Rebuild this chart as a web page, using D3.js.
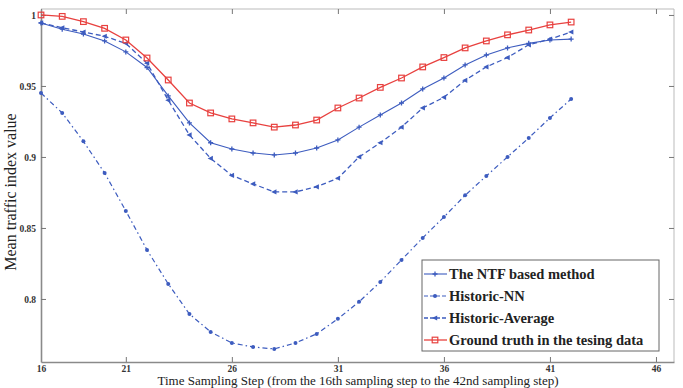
<!DOCTYPE html>
<html>
<head>
<meta charset="utf-8">
<script src="https://cdn.jsdelivr.net/npm/d3@7/dist/d3.min.js"></script>
<style>
html,body{margin:0;padding:0;background:#fff;}
svg{display:block;}
text{font-family:"Liberation Serif","Times New Roman",serif;}
</style>
</head>
<body>
<svg id="chart" width="683" height="388"></svg>
<script>
const steps = d3.range(17, 43);
const ntf = [0.9944,0.990,0.9866,0.9817,0.974,0.963,0.943,0.924,0.910,0.9056,0.9028,0.9014,0.9028,0.9063,0.912,0.921,0.9296,0.938,0.9479,0.9556,0.9648,0.9718,0.9768,0.980,0.9824,0.983];
const historicNN = [0.945,0.931,0.911,0.8887,0.862,0.8345,0.8106,0.7894,0.7768,0.769,0.7662,0.7648,0.769,0.7754,0.786,0.798,0.812,0.8275,0.843,0.8577,0.873,0.8866,0.900,0.9134,0.9275,0.9408];
const historicAvg = [0.9944,0.991,0.988,0.985,0.980,0.966,0.940,0.9155,0.899,0.887,0.881,0.8754,0.8754,0.879,0.885,0.900,0.910,0.921,0.9345,0.942,0.954,0.9634,0.970,0.979,0.983,0.988];
const groundTruth = [1.0,0.999,0.9953,0.9906,0.9824,0.9697,0.9542,0.938,0.931,0.9268,0.924,0.921,0.9225,0.926,0.9345,0.9415,0.949,0.9556,0.9634,0.970,0.9768,0.9817,0.986,0.9894,0.993,0.995];
const seriesNames = ["The NTF based method","Historic-NN","Historic-Average","Ground truth in the tesing data"];
const xTickValues = [17,21,26,31,36,41,46];
const xTickLabels = ["16","21","26","31","36","41","46"];
const yTickValues = [0.8,0.85,0.9,0.95,1];
const yTickLabels = ["0.8","0.85","0.9","0.95","1"];

const W = 683, H = 388;
const m = {left:41, top:9, right:9, bottom:26};
const svg = d3.select("#chart");
const x = d3.scaleLinear().domain([17, 46.85]).range([m.left, W - m.right]);
const y = d3.scaleLinear().domain([0.7556, 1.0042]).range([H - m.bottom, m.top]);

const blue = "#3d5cbf";
const red = "#e8413f";

const series = [
  {name: seriesNames[0], values: ntf, color: blue, width: 1.1, dash: null, marker: "plus"},
  {name: seriesNames[1], values: historicNN, color: blue, width: 1.2, dash: "5,3,1.5,3", marker: "dot"},
  {name: seriesNames[2], values: historicAvg, color: blue, width: 1.3, dash: "5,3", marker: "tri"},
  {name: seriesNames[3], values: groundTruth, color: red, width: 1.3, dash: null, marker: "square"}
];

// frame
const fr = svg.append("g");
fr.append("line").attr("x1", m.left).attr("x2", W - m.right).attr("y1", m.top).attr("y2", m.top).attr("stroke", "#bbb").attr("stroke-width", 1);
fr.append("line").attr("x1", W - m.right).attr("x2", W - m.right).attr("y1", m.top).attr("y2", H - m.bottom).attr("stroke", "#bbb").attr("stroke-width", 1);

// axes with inward ticks
const xAxisB = d3.axisBottom(x).tickValues(xTickValues).tickFormat((d,i) => xTickLabels[i]).tickSizeInner(-5).tickSizeOuter(0).tickPadding(3);
const gx = svg.append("g").attr("transform", `translate(0,${H - m.bottom})`).call(xAxisB);
const xAxisT = d3.axisTop(x).tickValues(xTickValues).tickFormat("").tickSizeInner(-5).tickSizeOuter(0);
const gxt = svg.append("g").attr("transform", `translate(0,${m.top})`).call(xAxisT);
gxt.select(".domain").remove();
const yAxisL = d3.axisLeft(y).tickValues(yTickValues).tickFormat((d,i) => yTickLabels[i]).tickSizeInner(-5).tickSizeOuter(0).tickPadding(5);
const gy = svg.append("g").attr("transform", `translate(${m.left},0)`).call(yAxisL);
const yAxisR = d3.axisRight(y).tickValues(yTickValues).tickFormat("").tickSizeInner(-5).tickSizeOuter(0);
const gyr = svg.append("g").attr("transform", `translate(${W - m.right},0)`).call(yAxisR);
gyr.select(".domain").remove();

[gx, gy].forEach(g => {
  g.select(".domain").attr("stroke", "#8a8a8a").attr("stroke-width", 1.6);
  g.selectAll(".tick text").attr("font-family", "Liberation Serif, serif").attr("font-size", 9.5).attr("font-weight", "bold").attr("fill", "#333");
});
[gx, gy, gxt, gyr].forEach(g => g.selectAll(".tick line").attr("stroke", "#777").attr("stroke-width", 1));

// lines
const line = d3.line().x((d,i) => x(steps[i])).y(d => y(d));
function drawMarker(g, type, cx, cy, color) {
  if (type === "square") {
    g.append("rect").attr("x", cx - 2.8).attr("y", cy - 2.8).attr("width", 5.6).attr("height", 5.6).attr("fill", "none").attr("stroke", color).attr("stroke-width", 1.2);
  } else if (type === "plus") {
    g.append("path").attr("d", `M${cx-2.5},${cy}H${cx+2.5}M${cx},${cy-2.5}V${cy+2.5}`).attr("stroke", color).attr("stroke-width", 1.3);
  } else if (type === "dot") {
    g.append("circle").attr("cx", cx).attr("cy", cy).attr("r", 2).attr("fill", color);
  } else if (type === "tri") {
    g.append("path").attr("d", `M${cx-3},${cy}L${cx+2.2},${cy-2.6}L${cx+2.2},${cy+2.6}Z`).attr("fill", color);
  }
}
series.forEach(s => {
  const g = svg.append("g");
  g.append("path").datum(s.values).attr("d", line).attr("fill", "none").attr("stroke", s.color).attr("stroke-width", s.width).attr("stroke-dasharray", s.dash);
  s.values.forEach((v,i) => drawMarker(g, s.marker, x(steps[i]), y(v), s.color));
});

// legend
const lg = svg.append("g");
const lx = 422, ly = 260, lw = 237, lh = 91;
lg.append("rect").attr("x", lx).attr("y", ly).attr("width", lw).attr("height", lh).attr("fill", "#fff").attr("stroke", "#666").attr("stroke-width", 1);
series.forEach((s, i) => {
  const yy = ly + 14 + i * 22;
  lg.append("line").attr("x1", lx + 2).attr("x2", lx + 25).attr("y1", yy).attr("y2", yy).attr("stroke", s.color).attr("stroke-width", s.width).attr("stroke-dasharray", s.dash ? "4,2" : null);
  drawMarker(lg, s.marker, lx + 13, yy, s.color);
  lg.append("text").attr("x", lx + 27).attr("y", yy + 5).attr("font-size", 14.5).attr("font-weight", "bold").attr("fill", "#222").text(s.name);
});

// axis titles
svg.append("text").attr("x", 358).attr("y", 384.5).attr("text-anchor", "middle").attr("font-size", 13).attr("fill", "#222").text("Time Sampling Step (from the 16th sampling step to the 42nd sampling step)");
svg.append("text").attr("transform", "translate(16,192) rotate(-90)").attr("text-anchor", "middle").attr("font-size", 16).attr("fill", "#222").text("Mean traffic index value");
</script>
</body>
</html>
